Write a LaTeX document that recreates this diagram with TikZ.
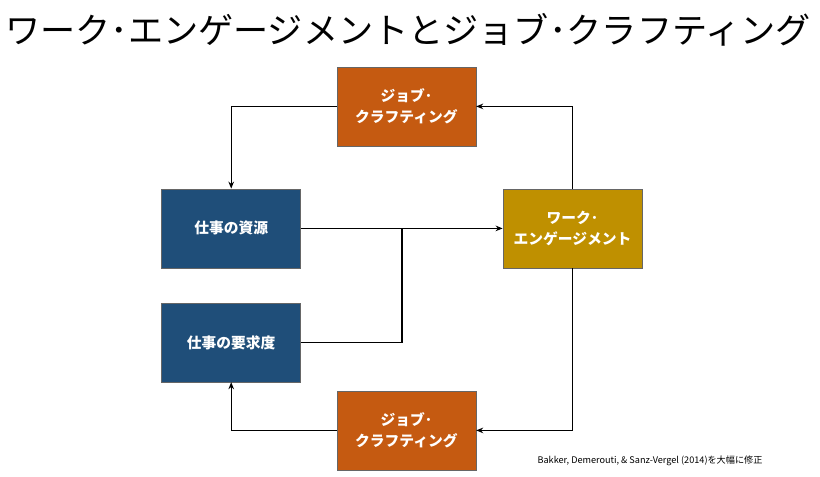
\documentclass[tikz,border=0pt]{standalone}
\usepackage{fontspec}
\setmainfont{Noto Sans CJK JP}
\newfontfamily\jp{Noto Sans CJK JP}
\usetikzlibrary{positioning}
\usetikzlibrary{arrows.meta}
\definecolor{craftorange}{RGB}{197,90,17}
\definecolor{resblue}{RGB}{31,78,121}
\definecolor{enggold}{RGB}{191,144,0}
\tikzset{
  box/.style={draw=black!60,minimum width=3.475cm,minimum height=1.975cm,text=white,align=center,font=\jp\bfseries\fontsize{10.5}{15}\selectfont},
  flow/.style={thick,-{Stealth[length=5pt,width=4pt]}}
}
\begin{document}
\begin{tikzpicture}
  \useasboundingbox (0,0) rectangle (20.5,-11.925);
  \node[anchor=west,inner sep=0,font=\jp\fontsize{25}{28}\selectfont] (title) at (0.12,-0.75) {ワーク･エンゲージメントとジョブ･クラフティング};
  \node[box,fill=craftorange] (topjc) at (10.16,-2.66) {ジョブ･\\クラフティング};
  \node[box,fill=resblue] (res) at (5.78,-5.71) {仕事の資源};
  \node[box,fill=resblue] (dem) at (5.78,-8.56) {仕事の要求度};
  \node[box,fill=enggold] (eng) at (14.31,-5.71) {ワーク･\\エンゲージメント};
  \node[box,fill=craftorange] (botjc) at (10.16,-10.76) {ジョブ･\\クラフティング};
  \node[font=\jp\fontsize{6.5}{8}\selectfont] (cite) at (16.25,-11.53) {Bakker, Demerouti, \& Sanz-Vergel (2014)を大幅に修正};
  \coordinate (join) at (10.05,-5.71);
  \draw[flow] (eng.north) |- (topjc.east);
  \draw[flow] (topjc.west) -| (res.north);
  \draw[flow] (res.east) -- (eng.west);
  \draw[thick] (dem.east) -| (join);
  \draw[flow] (eng.south) |- (botjc.east);
  \draw[flow] (botjc.west) -| (dem.south);
\end{tikzpicture}
\end{document}
